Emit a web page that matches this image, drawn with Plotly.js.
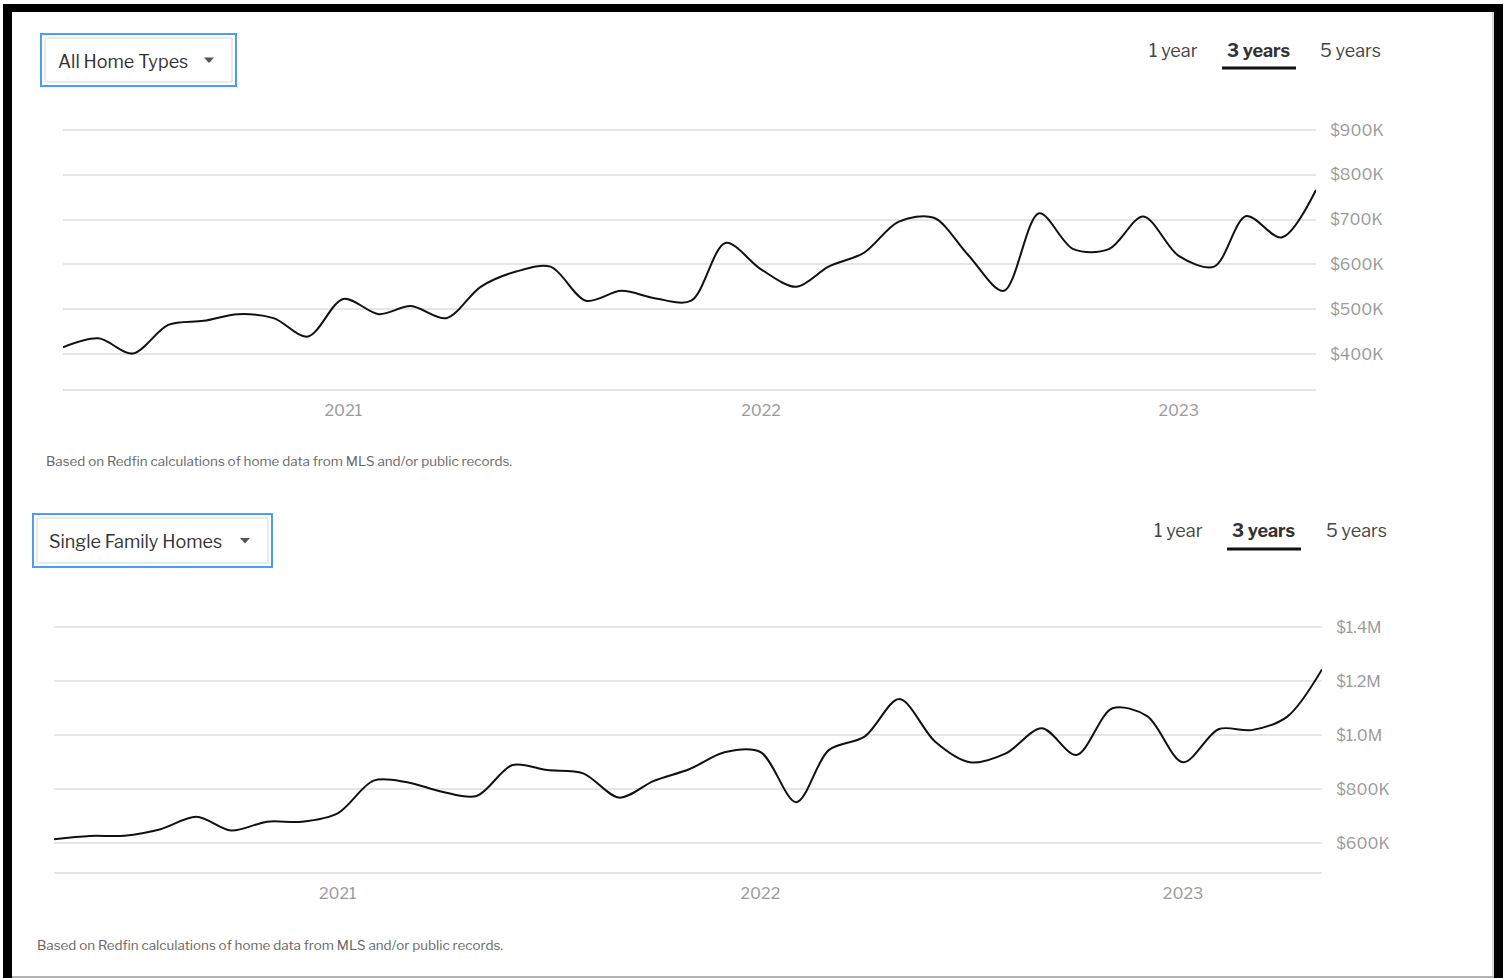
<!DOCTYPE html>
<html>
<head>
<meta charset="utf-8">
<script src="https://cdn.plot.ly/plotly-3.0.1.min.js"></script>
<style>
  html, body { margin: 0; padding: 0; background: #ffffff; }
  #chart { width: 1509px; height: 978px; }
</style>
</head>
<body>
<div id="chart"></div>
<script>
// ---- data (monthly, May 2020 – May 2023), values in thousands of dollars ----
const months = [
  "2020-05-01","2020-06-01","2020-07-01","2020-08-01","2020-09-01","2020-10-01","2020-11-01","2020-12-01",
  "2021-01-01","2021-02-01","2021-03-01","2021-04-01","2021-05-01","2021-06-01","2021-07-01","2021-08-01",
  "2021-09-01","2021-10-01","2021-11-01","2021-12-01","2022-01-01","2022-02-01","2022-03-01","2022-04-01",
  "2022-05-01","2022-06-01","2022-07-01","2022-08-01","2022-09-01","2022-10-01","2022-11-01","2022-12-01",
  "2023-01-01","2023-02-01","2023-03-01","2023-04-01","2023-05-01"
];
const allHomeTypes = [415, 435, 401, 465, 474, 489, 480, 439, 523, 489, 507, 480, 550, 584, 595, 519,
  541, 524, 519, 648, 589, 550, 595, 626, 695, 704, 621, 541, 714, 634, 634, 707, 619, 595, 708, 660, 766];
const singleFamilyHomes = [614, 626, 627, 651, 697, 646, 679, 679, 710, 831, 826, 790, 774, 889, 870, 858,
  768, 830, 874, 936, 937, 751, 944, 994, 1133, 975, 899, 932, 1025, 926, 1099, 1070, 899, 1022, 1018, 1068, 1243];

const yearTicks = ["2021-01-01", "2022-01-01", "2023-01-01"];
const yearLabels = ["2021", "2022", "2023"];
const allTickVals = [400, 500, 600, 700, 800, 900];
const allTickText = ["$400K", "$500K", "$600K", "$700K", "$800K", "$900K"];
const sfTickVals = [600, 800, 1000, 1200, 1400];
const sfTickText = ["$600K", "$800K", "$1.0M", "$1.2M", "$1.4M"];
const footnote = "Based on Redfin calculations of home data from MLS and/or public records.";

// ---- layout helpers (pixel -> paper) ----
const W = 1509, H = 978;
const px = v => v / W;
const py = v => 1 - v / H;
const FONT = "'Libre Franklin', Lato, 'Open Sans', sans-serif";

const traces = [
  { x: months, y: allHomeTypes, xaxis: "x", yaxis: "y", type: "scatter", mode: "lines",
    line: { color: "#111111", width: 2, shape: "spline", smoothing: 0.9 }, hoverinfo: "x+y" },
  { x: months, y: singleFamilyHomes, xaxis: "x2", yaxis: "y2", type: "scatter", mode: "lines",
    line: { color: "#111111", width: 2, shape: "spline", smoothing: 0.9 }, hoverinfo: "x+y" }
];

const axisX = (domain, anchor) => ({
  domain: domain, anchor: anchor, type: "date",
  range: ["2020-05-01", "2023-05-01"],
  tickvals: yearTicks, ticktext: yearLabels,
  showgrid: false, zeroline: false,
  showline: true, linecolor: "#e4e4e4", linewidth: 1.5,
  ticks: "outside", ticklen: 6, tickcolor: "rgba(0,0,0,0)",
  tickfont: { family: FONT, size: 16, color: "#9a9a9a" },
  fixedrange: true
});
const axisY = (domain, anchor, range, vals, text) => ({
  domain: domain, anchor: anchor, side: "right", range: range,
  tickvals: vals, ticktext: text,
  showgrid: true, gridcolor: "#e6e6e6", gridwidth: 1.5,
  zeroline: false, showline: false,
  ticks: "outside", ticklen: 10, tickcolor: "rgba(0,0,0,0)",
  tickfont: { family: FONT, size: 16, color: "#9a9a9a" },
  fixedrange: true
});

const layout = {
  width: W, height: H,
  margin: { l: 0, r: 0, t: 0, b: 0 },
  paper_bgcolor: "#ffffff", plot_bgcolor: "#ffffff",
  showlegend: false,
  font: { family: FONT },
  xaxis: axisX([px(63), px(1316)], "y"),
  yaxis: axisY([py(389), py(126)], "x", [321.9, 900 + 4 * 2.232], allTickVals, allTickText),
  xaxis2: axisX([px(54), px(1322)], "y2"),
  yaxis2: axisY([py(872), py(623)], "x2", [492.5, 1400 + 4 * 3.704], sfTickVals, sfTickText),
  shapes: [
    // page frame
    { type: "rect", xref: "paper", yref: "paper", x0: px(3), x1: px(12), y0: py(978), y1: py(4), fillcolor: "#000", line: { width: 0 } },
    { type: "rect", xref: "paper", yref: "paper", x0: px(3), x1: px(1503), y0: py(12), y1: py(4), fillcolor: "#000", line: { width: 0 } },
    { type: "rect", xref: "paper", yref: "paper", x0: px(1494), x1: px(1503), y0: py(978), y1: py(4), fillcolor: "#000", line: { width: 0 } },
    { type: "line", xref: "paper", yref: "paper", x0: px(12), x1: px(1494), y0: py(977), y1: py(977), line: { color: "#9a9a9a", width: 1.5 } },
    { type: "line", xref: "paper", yref: "paper", x0: px(1493), x1: px(1493), y0: py(12), y1: py(977), line: { color: "#b0b0b0", width: 1 } },
    // dropdown 1
    { type: "rect", xref: "paper", yref: "paper", x0: px(41), x1: px(236), y0: py(86), y1: py(34), line: { color: "#4a9ff5", width: 2 } },
    { type: "rect", xref: "paper", yref: "paper", x0: px(45), x1: px(232), y0: py(82), y1: py(38), line: { color: "#d6d6d6", width: 1 } },
    { type: "path", xref: "paper", yref: "paper",
      path: `M ${px(204)} ${py(57.5)} L ${px(214)} ${py(57.5)} L ${px(209)} ${py(63)} Z`, fillcolor: "#555", line: { width: 0 } },
    // dropdown 2
    { type: "rect", xref: "paper", yref: "paper", x0: px(33), x1: px(272), y0: py(567), y1: py(514), line: { color: "#4a9ff5", width: 2 } },
    { type: "rect", xref: "paper", yref: "paper", x0: px(37), x1: px(268), y0: py(563), y1: py(518), line: { color: "#d6d6d6", width: 1 } },
    { type: "path", xref: "paper", yref: "paper",
      path: `M ${px(240)} ${py(538)} L ${px(250)} ${py(538)} L ${px(245)} ${py(543.5)} Z`, fillcolor: "#555", line: { width: 0 } },
    // tab underlines
    { type: "rect", xref: "paper", yref: "paper", x0: px(1222), x1: px(1296), y0: py(69.5), y1: py(66.5), fillcolor: "#111", line: { width: 0 } },
    { type: "rect", xref: "paper", yref: "paper", x0: px(1227), x1: px(1301), y0: py(550.5), y1: py(547.5), fillcolor: "#111", line: { width: 0 } }
  ],
  annotations: [
    { text: "All Home Types", xref: "paper", yref: "paper", x: px(55.5), y: py(61), xanchor: "left", yanchor: "middle", showarrow: false,
      font: { family: FONT, size: 18, color: "#333" } },
    { text: "Single Family Homes", xref: "paper", yref: "paper", x: px(46.5), y: py(541), xanchor: "left", yanchor: "middle", showarrow: false,
      font: { family: FONT, size: 18, color: "#333" } },
    { text: "1 year", xref: "paper", yref: "paper", x: px(1173), y: py(50), xanchor: "center", yanchor: "middle", showarrow: false,
      font: { family: FONT, size: 18, color: "#444" } },
    { text: "<b>3 years</b>", xref: "paper", yref: "paper", x: px(1259), y: py(50), xanchor: "center", yanchor: "middle", showarrow: false,
      font: { family: FONT, size: 18, color: "#333" } },
    { text: "5 years", xref: "paper", yref: "paper", x: px(1350), y: py(50), xanchor: "center", yanchor: "middle", showarrow: false,
      font: { family: FONT, size: 18, color: "#444" } },
    { text: "1 year", xref: "paper", yref: "paper", x: px(1178), y: py(530), xanchor: "center", yanchor: "middle", showarrow: false,
      font: { family: FONT, size: 18, color: "#444" } },
    { text: "<b>3 years</b>", xref: "paper", yref: "paper", x: px(1264), y: py(530), xanchor: "center", yanchor: "middle", showarrow: false,
      font: { family: FONT, size: 18, color: "#333" } },
    { text: "5 years", xref: "paper", yref: "paper", x: px(1356), y: py(530), xanchor: "center", yanchor: "middle", showarrow: false,
      font: { family: FONT, size: 18, color: "#444" } },
    { text: footnote, xref: "paper", yref: "paper", x: px(43.5), y: py(461), xanchor: "left", yanchor: "middle", showarrow: false,
      font: { family: FONT, size: 13.4, color: "#666" } },
    { text: footnote, xref: "paper", yref: "paper", x: px(34.5), y: py(945), xanchor: "left", yanchor: "middle", showarrow: false,
      font: { family: FONT, size: 13.4, color: "#666" } }
  ]
};

Plotly.newPlot("chart", traces, layout, { displayModeBar: false, staticPlot: false, responsive: false });
</script>
</body>
</html>
